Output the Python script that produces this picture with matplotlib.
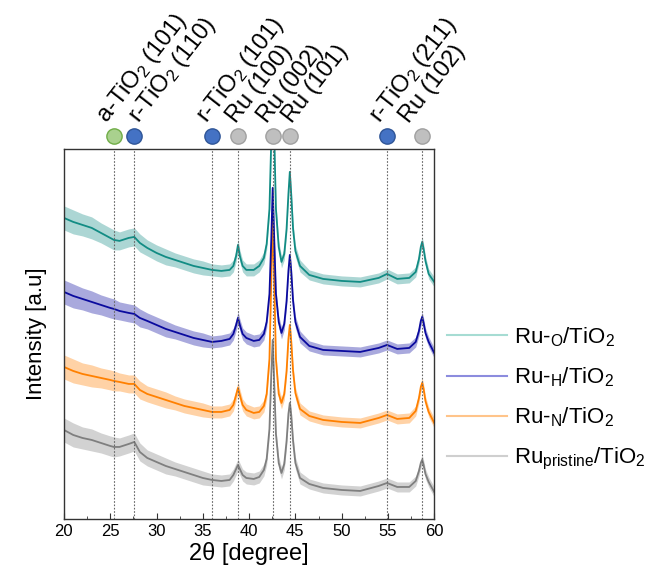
import numpy as np
import matplotlib
matplotlib.use("Agg")
import matplotlib.pyplot as plt
from matplotlib.lines import Line2D
from matplotlib.ticker import MultipleLocator

plt.rcParams['font.family'] = ['Liberation Sans', 'DejaVu Sans']
plt.rcParams['mathtext.default'] = 'regular'

# 2theta grid (degrees) shared by all four patterns
two_theta = [20, 21, 22, 23, 24, 25, 25.4, 26, 27, 27.6, 28.2, 29, 30, 31, 32, 33, 34, 35,
             36, 37,
             37.9, 38.3, 38.6, 38.8, 39.0, 39.3, 39.7,
             40.5, 41.1,
             41.6, 41.9, 42.2, 42.4, 42.55, 42.7, 42.9, 43.2, 43.5, 43.8, 44.05, 44.25, 44.4,
             44.55, 44.75, 45.0, 45.5,
             46.5, 48, 50, 52, 54, 54.9, 56,
             57.3, 58.0, 58.35, 58.55, 58.7, 58.85, 59.05, 59.4, 60]

# intensities (a.u., stacked with offsets as in the figure)
ru_o = [301, 297, 294, 291, 286, 281, 279, 278, 281, 282, 276, 271, 266, 262, 259, 256,
        253, 251, 249, 248,
        249, 253, 263, 274, 263, 253, 249,
        249, 253,
        261, 275, 310, 380, 480, 390, 310, 272, 257, 265, 290, 325, 347, 325, 290, 268, 253,
        244, 240, 238, 237, 241, 245, 240,
        241, 247, 260, 272, 277, 270, 258, 245, 237]
ru_h = [227, 223, 220, 217, 214, 211, 210, 208, 206, 205, 201, 198, 194, 190, 187, 184,
        181, 179, 177, 178,
        180, 185, 194, 201, 194, 185, 181,
        178, 179,
        185, 197, 225, 280, 331, 285, 225, 197, 186, 195, 218, 248, 264, 248, 218, 197, 182,
        173, 169, 168, 167, 171, 174, 170,
        171, 177, 188, 198, 202, 196, 186, 177, 166]
ru_n = [152, 148, 145, 143, 141, 139, 138, 137, 135, 135, 129, 125, 122, 119, 116, 113,
        111, 109, 107, 107,
        109, 114, 124, 131, 124, 114, 109,
        106, 107,
        113, 125, 160, 240, 302, 245, 160, 125, 116, 125, 148, 180, 194, 178, 148, 126, 110,
        103, 99, 97, 96, 101, 104, 100,
        101, 108, 121, 132, 136, 130, 118, 107, 96]
ru_pristine = [89, 84, 81, 79, 76, 73, 72, 72, 75, 77, 67, 61, 57, 53, 50, 47, 44, 41, 39, 38,
               39, 44, 50, 54, 50, 44, 41,
               40, 42,
               49, 60, 90, 145, 179, 140, 85, 56, 46, 55, 78, 105, 116, 104, 78, 56, 41,
               35, 31, 29, 28, 33, 36, 32,
               32, 38, 48, 56, 59, 54, 45, 37, 27]

# half width of the noise band
noise = [12, 12, 11, 11, 10, 10, 10, 9, 9, 9, 9, 8, 8, 8, 7, 7, 7, 7, 6, 6,
         6, 6, 6, 6, 6, 6, 6,
         6, 6,
         6, 6, 6, 6, 6, 6, 6, 6, 6, 6, 6, 6, 6, 6, 6, 6, 6,
         5, 5, 5, 5, 5, 5, 5,
         5, 5, 5, 5, 5, 5, 5, 5, 5]

series_names = ['Ru-$_{O}$/TiO$_2$', 'Ru-$_{H}$/TiO$_2$', 'Ru-$_{N}$/TiO$_2$',
                'Ru$_{pristine}$/TiO$_2$']
line_colors = ['#128c84', '#0a0a9e', '#ff8000', '#7f7f7f']
legend_colors = ['#a6dcd3', '#8c8cde', '#ffc48a', '#cfcfcf']

# reflections
ref_pos = [25.4, 27.6, 36.0, 38.8, 42.55, 44.4, 54.9, 58.7]
ref_labels = ['a-TiO$_2$ (101)', 'r-TiO$_2$ (110)', 'r-TiO$_2$ (101)', 'Ru (100)',
              'Ru (002)', 'Ru (101)', 'r-TiO$_2$ (211)', 'Ru (102)']
label_x = [24.6, 28.0, 35.4, 38.6, 41.9, 44.6, 54.1, 57.3]
ref_phase = ['anatase', 'rutile', 'rutile', 'Ru', 'Ru', 'Ru', 'rutile', 'Ru']
phase_face = {'anatase': '#a9d18e', 'rutile': '#4472c4', 'Ru': '#bfbfbf'}
phase_edge = {'anatase': '#70ad47', 'rutile': '#2f5597', 'Ru': '#a0a0a0'}

fig = plt.figure(figsize=(6.66, 5.72), dpi=100)
ax = fig.add_axes([0.096, 0.0927, 0.556, 0.647])

x = np.array(two_theta)
nw = np.array(noise)
for ys, c in zip([ru_pristine, ru_n, ru_h, ru_o], line_colors[::-1]):
    ys = np.array(ys)
    ax.fill_between(x, ys - nw, ys + nw, color=c, alpha=0.35, lw=0)
    ax.plot(x, ys, color=c, lw=1.3)

for p in ref_pos:
    ax.axvline(p, color='#666666', lw=0.8, ls=(0, (1.5, 1.5)), zorder=5)

ax.set_xlim(20, 60)
ax.set_ylim(0, 370)
ax.set_yticks([])
ax.xaxis.set_major_locator(MultipleLocator(5))
ax.xaxis.set_minor_locator(MultipleLocator(2.5))
ax.tick_params(axis='x', which='major', direction='in', length=4, labelsize=12, color='#333333')
ax.tick_params(axis='x', which='minor', direction='in', length=2.5, color='#333333')
for s in ax.spines.values():
    s.set_color('#333333')
    s.set_linewidth(1.0)

ax.set_xlabel('2θ [degree]', fontsize=17, labelpad=2)
ax.set_ylabel('Intensity [a.u]', fontsize=16, labelpad=12)

trans = ax.get_xaxis_transform()
for p, lx, lab, ph in zip(ref_pos, label_x, ref_labels, ref_phase):
    ax.plot([p], [1.036], marker='o', ms=11, mfc=phase_face[ph], mec=phase_edge[ph],
            mew=1, transform=trans, clip_on=False, zorder=6)
    ax.text(lx, 1.068, lab, transform=trans, rotation=52, rotation_mode='anchor',
            ha='left', va='baseline', fontsize=17)

handles = [Line2D([], [], color=c, lw=1.5) for c in legend_colors]
fig.legend(handles, series_names, loc='center left', bbox_to_anchor=(0.641, 0.303),
           frameon=False, fontsize=16, handlelength=2.7, handletextpad=0.3,
           labelspacing=0.75)

fig.savefig('out.png', dpi=100)
